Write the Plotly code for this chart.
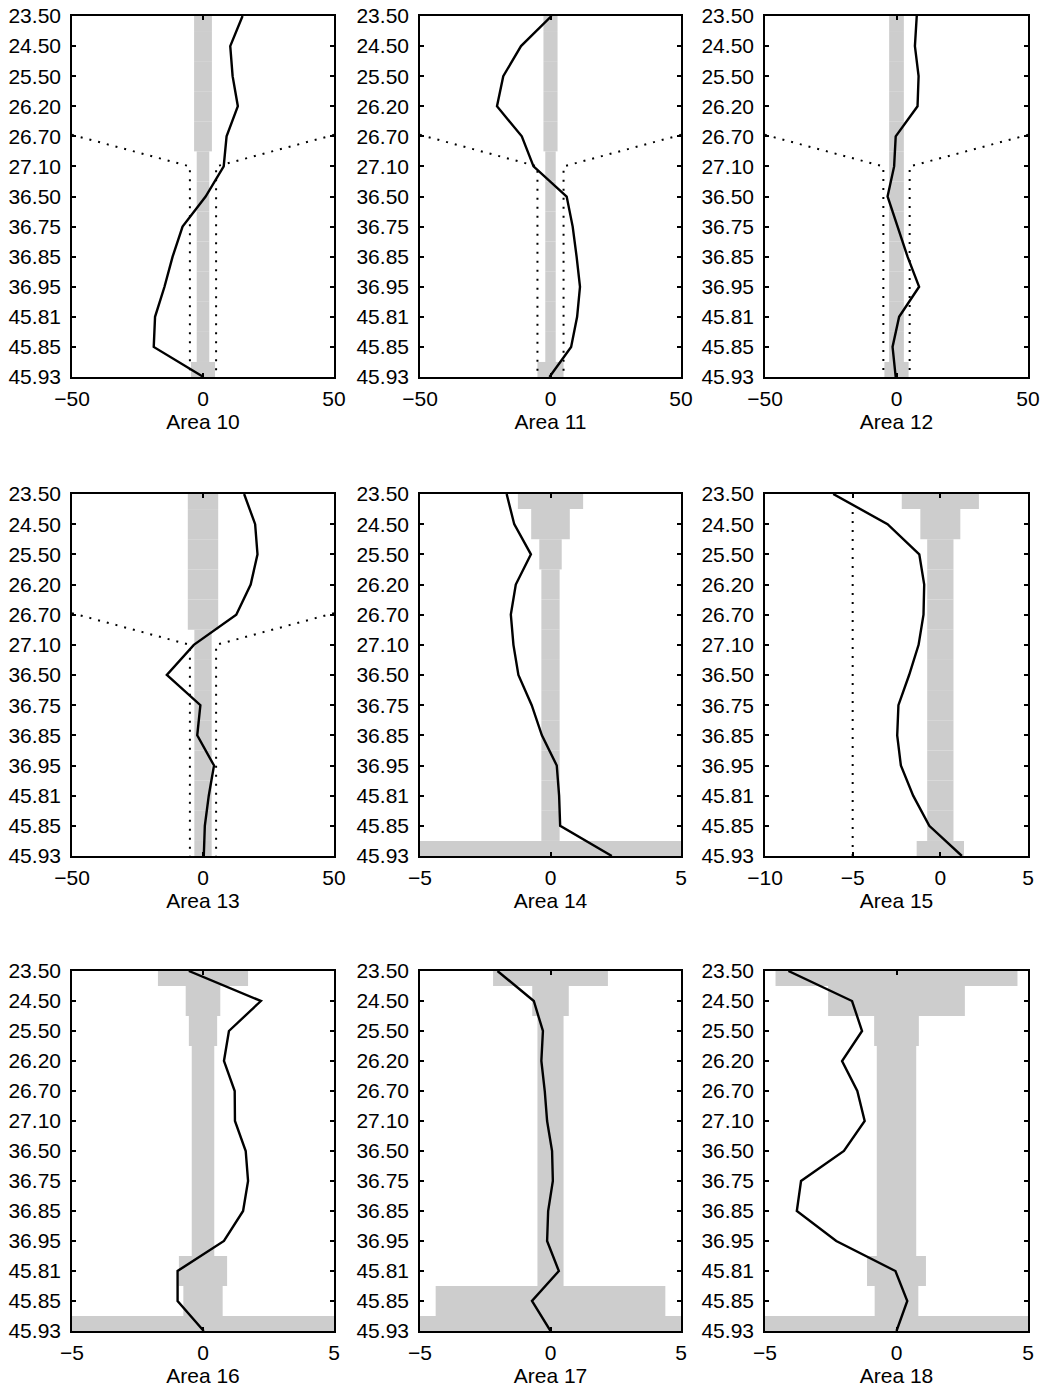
import plotly.graph_objects as go

# ---------------- data ----------------
depth_labels = ["23.50", "24.50", "25.50", "26.20", "26.70", "27.10", "36.50",
                "36.75", "36.85", "36.95", "45.81", "45.85", "45.93"]
area_names = ["Area 10", "Area 11", "Area 12", "Area 13", "Area 14",
              "Area 15", "Area 16", "Area 17", "Area 18"]

profile_area10 = [15.1, 10.4, 11.3, 13.3, 9.0, 7.9, 1.0, -7.8, -11.6, -14.7, -18.3, -18.8, 0.2]
profile_area11 = [0.4, -11.3, -18.1, -20.5, -11.0, -6.5, 6.2, 8.5, 10.0, 11.3, 10.2, 7.9, -0.4]
profile_area12 = [7.7, 7.0, 8.4, 8.0, -0.3, -0.9, -3.4, 0.4, 4.2, 8.6, 1.0, -1.5, -0.3]
profile_area13 = [15.7, 19.9, 20.8, 18.2, 12.7, -3.5, -13.8, -1.0, -2.2, 4.2, 2.2, 0.7, 0.3]
profile_area14 = [-1.68, -1.39, -0.75, -1.33, -1.52, -1.42, -1.23, -0.72, -0.33, 0.24, 0.33, 0.37, 2.35]
profile_area15 = [-6.11, -3.01, -1.2, -0.92, -0.96, -1.24, -1.78, -2.39, -2.46, -2.25, -1.55, -0.63, 1.23]
profile_area16 = [-0.54, 2.21, 0.99, 0.8, 1.21, 1.22, 1.63, 1.72, 1.53, 0.8, -0.97, -0.97, 0.03]
profile_area17 = [-2.03, -0.64, -0.29, -0.35, -0.22, -0.13, 0.06, 0.09, -0.09, -0.13, 0.32, -0.71, 0.0]
profile_area18 = [-4.11, -1.69, -1.31, -2.07, -1.49, -1.21, -2.0, -3.63, -3.79, -2.29, -0.04, 0.41, 0.0]

band_area10 = [3.4, 3.4, 3.4, 3.4, 3.4, 2.4, 2.4, 2.4, 2.4, 2.4, 2.4, 2.4, 4.6]
band_area11 = [2.7, 2.7, 2.7, 2.7, 2.7, 2.0, 2.0, 2.0, 2.0, 2.0, 2.0, 2.0, 5.0]
band_area12 = [2.8, 2.8, 2.8, 2.8, 2.8, 2.8, 2.8, 2.8, 2.8, 2.8, 2.8, 2.8, 4.6]
band_area13 = [5.8, 5.8, 5.8, 5.8, 5.8, 3.3, 3.3, 3.3, 3.3, 3.3, 3.3, 3.3, 3.3]
band_area14 = [1.25, 0.74, 0.43, 0.35, 0.35, 0.35, 0.35, 0.35, 0.35, 0.35, 0.35, 0.35, 5.0]
band_area15 = [2.2, 1.14, 0.75, 0.75, 0.75, 0.75, 0.75, 0.75, 0.75, 0.75, 0.75, 0.75, 1.35]
band_area16 = [1.72, 0.66, 0.54, 0.43, 0.43, 0.43, 0.43, 0.43, 0.43, 0.43, 0.92, 0.75, 5.0]
band_area17 = [2.2, 0.7, 0.5, 0.5, 0.5, 0.5, 0.5, 0.5, 0.5, 0.5, 0.5, 4.4, 5.0]
band_area18 = [4.6, 2.6, 0.85, 0.75, 0.75, 0.75, 0.75, 0.75, 0.75, 0.75, 1.12, 0.83, 5.0]

# dotted reference lines (x, depth index)
limit_left_x = [-50, -5, -5]
limit_right_x = [50, 5, 5]
limit_y = [3.95, 5, 12]
area15_limit_x = [-5, -5]
area15_limit_y = [0.6, 12]

x_ranges = [[-50, 50]] * 4 + [[-5, 5], [-10, 5], [-5, 5], [-5, 5], [-5, 5]]
x_ticks = [[-50, 0, 50]] * 4 + [[-5, 0, 5], [-10, -5, 0, 5], [-5, 0, 5], [-5, 0, 5], [-5, 0, 5]]

profiles = [profile_area10, profile_area11, profile_area12, profile_area13, profile_area14,
            profile_area15, profile_area16, profile_area17, profile_area18]
bands = [band_area10, band_area11, band_area12, band_area13, band_area14,
         band_area15, band_area16, band_area17, band_area18]

# ---------------- layout geometry ----------------
W, H = 1044, 1391
col_px = [(72, 334), (420, 681), (765, 1028)]
row_px = [(16, 377), (494, 856), (971, 1331)]

FONT = "Liberation Sans, Arial, Helvetica, sans-serif"
idx = list(range(len(depth_labels)))

fig = go.Figure()
layout_axes = {}

for k in range(9):
    r, c = divmod(k, 3)
    n = k + 1
    xa = "x" if n == 1 else f"x{n}"
    ya = "y" if n == 1 else f"y{n}"
    hw = bands[k]
    fig.add_trace(go.Bar(
        y=idx, x=[2 * h for h in hw], base=[-h for h in hw], orientation="h",
        width=1, marker=dict(color="#cdcdcd", line=dict(width=0)),
        xaxis=xa, yaxis=ya, showlegend=False, hoverinfo="skip"))
    if k < 4:
        for lx in (limit_left_x, limit_right_x):
            fig.add_trace(go.Scatter(
                x=lx, y=limit_y, mode="lines",
                line=dict(color="black", width=2, dash="2px,7px"),
                xaxis=xa, yaxis=ya, showlegend=False, hoverinfo="skip"))
    if k == 5:
        fig.add_trace(go.Scatter(
            x=area15_limit_x, y=area15_limit_y, mode="lines",
            line=dict(color="black", width=2, dash="2px,7px"),
            xaxis=xa, yaxis=ya, showlegend=False, hoverinfo="skip"))
    fig.add_trace(go.Scatter(
        x=profiles[k], y=idx, mode="lines",
        line=dict(color="black", width=2.4),
        xaxis=xa, yaxis=ya, showlegend=False))

    x0, x1 = col_px[c]
    y0, y1 = row_px[r]
    xkey = "xaxis" if n == 1 else f"xaxis{n}"
    ykey = "yaxis" if n == 1 else f"yaxis{n}"
    layout_axes[xkey] = dict(
        domain=[x0 / W, x1 / W], anchor=ya, range=x_ranges[k], automargin=False,
        tickmode="array", tickvals=x_ticks[k],
        ticks="inside", ticklen=4, tickcolor="black", tickwidth=1.5,
        showline=True, linecolor="black", linewidth=1.6, mirror="ticks",
        showgrid=False, zeroline=False,
        tickfont=dict(family=FONT, size=21, color="black"),
        ticklabelstandoff=2,
        title=dict(text=area_names[k], font=dict(family=FONT, size=21, color="black"),
                   standoff=2),
    )
    layout_axes[ykey] = dict(
        domain=[1 - y1 / H, 1 - y0 / H], anchor=xa, range=[12, 0], automargin=False,
        tickmode="array", tickvals=idx, ticktext=depth_labels,
        ticks="inside", ticklen=4, tickcolor="black", tickwidth=1.5,
        showline=True, linecolor="black", linewidth=1.6, mirror="ticks",
        showgrid=False, zeroline=False,
        tickfont=dict(family=FONT, size=21, color="black"),
        ticklabelstandoff=5,
    )

fig.update_layout(
    width=W, height=H, margin=dict(l=0, r=0, t=0, b=0),
    paper_bgcolor="white", plot_bgcolor="white",
    showlegend=False, barmode="overlay",
    **layout_axes,
)

fig.write_html("out.html")
